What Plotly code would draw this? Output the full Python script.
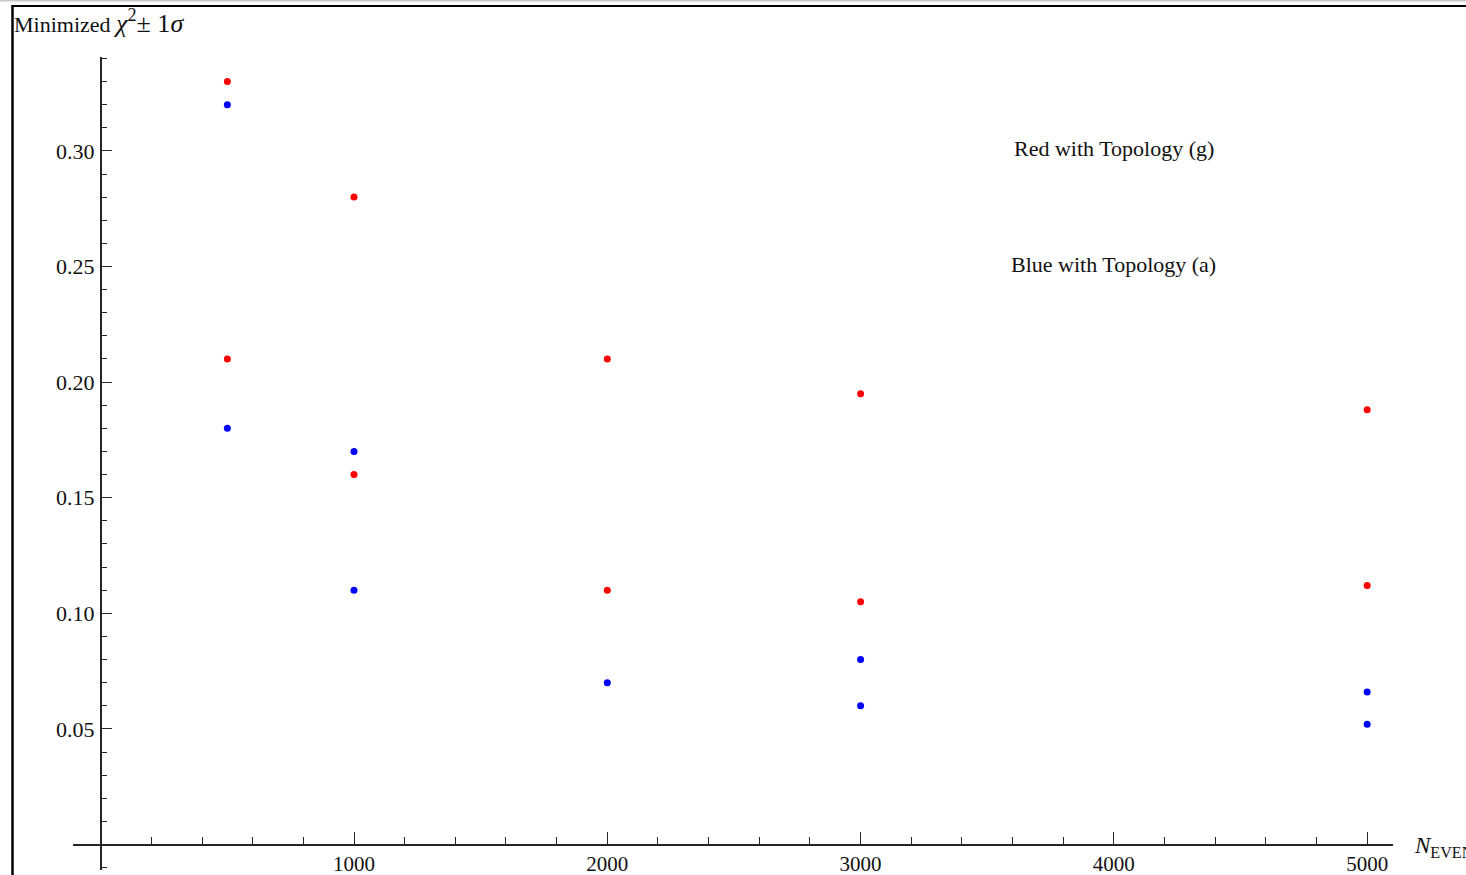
import plotly.graph_objects as go

W, H = 1466, 875

# ---- data ----
red_x = [500, 500, 1000, 1000, 2000, 2000, 3000, 3000, 5000, 5000]
red_y = [0.33, 0.21, 0.28, 0.16, 0.21, 0.11, 0.195, 0.105, 0.188, 0.112]
blue_x = [500, 500, 1000, 1000, 2000, 3000, 3000, 5000, 5000]
blue_y = [0.32, 0.18, 0.17, 0.11, 0.07, 0.08, 0.06, 0.066, 0.052]

x_range = [-109.4, 5102]
y_range = [-0.011, 0.3406]

SERIF = "Liberation Serif, Times New Roman, serif"
AX = "#262626"

fig = go.Figure()
fig.add_trace(go.Scatter(x=blue_x, y=blue_y, mode="markers",
                         marker=dict(color="#0000FF", size=7, line=dict(width=0)),
                         showlegend=False))
fig.add_trace(go.Scatter(x=red_x, y=red_y, mode="markers",
                         marker=dict(color="#FF0000", size=7, line=dict(width=0)),
                         showlegend=False))

x0_px, x1_px = 73, 1393
y_top_px, y_bot_px = 57, 870
xdom = [x0_px / W, x1_px / W]
ydom = [(H - y_bot_px) / H, (H - y_top_px) / H]

# pixel of data zero
zero_y_px = 844.6
zero_x_px = 100.7

fig.update_layout(
    width=W, height=H,
    margin=dict(l=0, r=0, t=0, b=0, autoexpand=False),
    paper_bgcolor="white", plot_bgcolor="white",
    xaxis=dict(domain=xdom, range=x_range, anchor="free",
               position=(H - zero_y_px) / H, automargin=False,
               showgrid=False, zeroline=False,
               showline=True, linecolor=AX, linewidth=1.5,
               ticks="inside", ticklen=12, tickwidth=1.4, tickcolor=AX,
               tickmode="linear", tick0=0, dtick=1000,
               labelalias={"0": ""},
               minor=dict(ticks="inside", ticklen=7, tickwidth=1.2, tickcolor=AX,
                          dtick=200, tick0=0, showgrid=False),
               tickfont=dict(family=SERIF, size=21, color="#111"),
               ticklabelstandoff=0),
    yaxis=dict(domain=ydom, range=y_range, anchor="free",
               position=zero_x_px / W, automargin=False,
               showgrid=False, zeroline=False,
               showline=True, linecolor=AX, linewidth=1.5,
               ticks="inside", ticklen=11, tickwidth=1.4, tickcolor=AX,
               tickmode="linear", tick0=0, dtick=0.05, tickformat=".2f",
               labelalias={"0.00": ""},
               minor=dict(ticks="inside", ticklen=6, tickwidth=1.2, tickcolor=AX,
                          dtick=0.01, tick0=0, showgrid=False),
               tickfont=dict(family=SERIF, size=22, color="#111"),
               ticklabelstandoff=1),
    font=dict(family=SERIF, color="#111"),
)

# text labels in data coordinates
fig.add_annotation(x=4000, y=0.30, xref="x", yref="y", text="Red with Topology (g)",
                   showarrow=False, yshift=2,
                   font=dict(family=SERIF, size=22, color="#111"))
fig.add_annotation(x=4000, y=0.25, xref="x", yref="y", text="Blue with Topology (a)",
                   showarrow=False, yshift=2,
                   font=dict(family=SERIF, size=22, color="#111"))

# axis labels
fig.add_annotation(x=12 / W, y=1 - 22 / H, xref="paper", yref="paper",
                   xanchor="left", yanchor="middle",
                   text="Minimized <span style=\"font-size:26px\"><i>χ</i><sup>2</sup>± 1<i>σ</i></span>",
                   showarrow=False, font=dict(family=SERIF, size=22, color="#111"))
fig.add_annotation(x=1412 / W, y=1 - 847 / H, xref="paper", yref="paper",
                   xanchor="left", yanchor="middle",
                   text="<i>N</i><sub>EVENTS</sub>",
                   showarrow=False, font=dict(family=SERIF, size=23, color="#111"))

# frame lines (notebook cell border)
fig.add_shape(type="line", xref="paper", yref="paper", x0=0, x1=1,
              y0=1 - 0.8 / H, y1=1 - 0.8 / H, line=dict(color="#c8c8c8", width=1.5))
fig.add_shape(type="line", xref="paper", yref="paper", x0=12 / W, x1=1,
              y0=1 - 6 / H, y1=1 - 6 / H, line=dict(color="#000", width=2))
fig.add_shape(type="line", xref="paper", yref="paper", x0=12.5 / W, x1=12.5 / W,
              y0=0, y1=1 - 5 / H, line=dict(color="#000", width=2.5))

fig.write_html("out.html")
